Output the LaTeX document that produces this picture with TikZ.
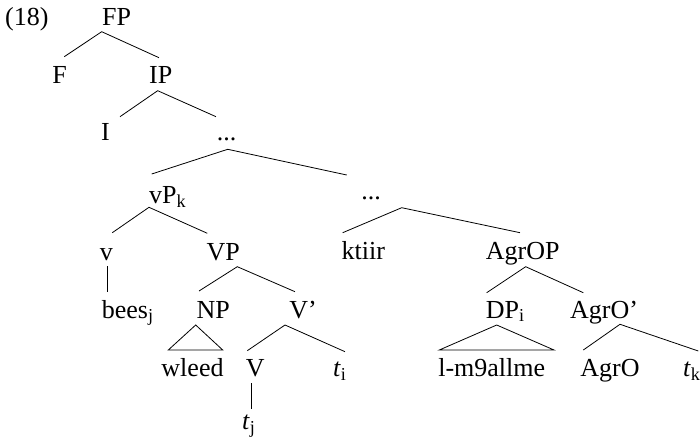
\documentclass[tikz,border=0pt]{standalone}
\usepackage{fontspec}
\setmainfont{Liberation Serif}
\begin{document}
\begin{tikzpicture}[x=1pt,y=-1pt,
  lab/.style={inner sep=0pt,anchor=base,font=\fontsize{26}{30}\selectfont},
  labw/.style={lab,anchor=base west},
  edge/.style={line width=0.8pt}]
\useasboundingbox (0,0) rectangle (700,443);
% labels
\node[labw] (ex) at (5,25.7) {(18)};
\node[lab] (FP) at (116.7,25.7) {FP};
\node[lab] (F) at (59.7,84) {F};
\node[lab] (IP) at (160.7,84) {IP};
\node[lab] (I) at (105.5,140.5) {I};
\node[lab] (d1) at (226.7,140.5) {...};
\node[labw] (vPk) at (149,203.3) {vP\textsubscript{k}};
\node[lab] (v) at (106.3,260) {v};
\node[lab] (VP) at (223.3,260) {VP};
\node[lab] (d2) at (371,200) {...};
\node[lab] (ktiir) at (363.3,259.3) {ktiir};
\node[lab] (AgrOP) at (522.8,259.3) {AgrOP};
\node[labw] (bees) at (101.7,318) {bees\textsubscript{j}};
\node[lab] (NP) at (213.3,318) {NP};
\node[lab] (Vbar) at (303,318) {V'};
\node[labw] (DPi) at (485.7,318) {DP\textsubscript{i}};
\node[lab] (AgrObar) at (604,318) {AgrO'};
\node[lab] (wleed) at (192.5,376.7) {wleed};
\node[lab] (V) at (255.3,376.7) {V};
\node[labw] (ti1) at (333,376.7) {\textit{t}\textsubscript{i}};
\node[lab] (lm) at (491.7,376.7) {l-m9allme};
\node[lab] (AgrO) at (610,376.7) {AgrO};
\node[labw] (tk) at (683,376.7) {\textit{t}\textsubscript{k}};
\node[labw] (ti2) at (242,429.3) {\textit{t}\textsubscript{j}};
% connector points
\coordinate (FPa) at (101.7,31.7); \coordinate (FPl) at (64.3,56.7); \coordinate (FPr) at (159,57.7);
\coordinate (IPa) at (157.7,90.7); \coordinate (IPl) at (120,116.7); \coordinate (IPr) at (216,116.7);
\coordinate (d1a) at (227.7,149.3); \coordinate (d1l) at (151.7,174); \coordinate (d1r) at (346.7,175);
\coordinate (vPa) at (149,207.3); \coordinate (vPl) at (112.3,232.7); \coordinate (vPr) at (207.3,233.3);
\coordinate (va) at (107.7,266); \coordinate (vb) at (107.7,292.3);
\coordinate (VPa) at (237.3,266.7); \coordinate (VPl) at (199,291); \coordinate (VPr) at (295,291.7);
\coordinate (NPa) at (195.7,325); \coordinate (NPl) at (168.3,350); \coordinate (NPr) at (222.7,350);
\coordinate (Vba) at (285,325); \coordinate (Vbl) at (247.3,350.7); \coordinate (Vbr) at (345,351.7);
\coordinate (Va) at (251.7,383.3); \coordinate (Vb) at (251.7,409.3);
\coordinate (d2a) at (401.7,207.7); \coordinate (d2l) at (342.7,232.7); \coordinate (d2r) at (520,232.7);
\coordinate (AOPa) at (525.7,266.7); \coordinate (AOPl) at (486.7,292.7); \coordinate (AOPr) at (583.3,292.7);
\coordinate (DPa) at (496.7,325); \coordinate (DPl) at (439.3,350); \coordinate (DPr) at (554,350);
\coordinate (AOba) at (620,324.3); \coordinate (AObl) at (583.3,350); \coordinate (AObr) at (698.3,351);
% connectors
\draw[edge] (FPl) -- (FPa) -- (FPr);
\draw[edge] (IPl) -- (IPa) -- (IPr);
\draw[edge] (d1l) -- (d1a) -- (d1r);
\draw[edge] (vPl) -- (vPa) -- (vPr);
\draw[edge] (va) -- (vb);
\draw[edge] (VPl) -- (VPa) -- (VPr);
\draw[edge] (NPl) -- (NPa) -- (NPr) -- cycle;
\draw[edge] (Vbl) -- (Vba) -- (Vbr);
\draw[edge] (Va) -- (Vb);
\draw[edge] (d2l) -- (d2a) -- (d2r);
\draw[edge] (AOPl) -- (AOPa) -- (AOPr);
\draw[edge] (DPl) -- (DPa) -- (DPr) -- cycle;
\draw[edge] (AObl) -- (AOba) -- (AObr);
\end{tikzpicture}
\end{document}
